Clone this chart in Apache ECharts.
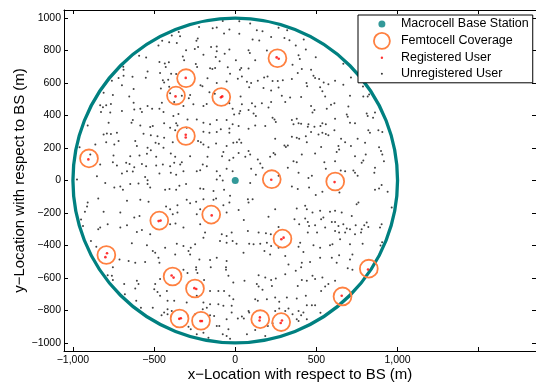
<!DOCTYPE html>
<html>
<head>
<meta charset="utf-8">
<script src="https://cdn.jsdelivr.net/npm/echarts@6/dist/echarts.min.js"></script>
<style>
  html, body { margin: 0; padding: 0; background: #fff; }
  #chart { width: 536px; height: 383px; }
</style>
</head>
<body>
<div id="chart"></div>
<script>
const FONT = 'Liberation Sans, Arial, Helvetica, sans-serif';
const TEAL = '#008080', ORANGE = '#ff8040';

// axis ranges and ticks
const xTicks = [-1000, -500, 0, 500, 1000, 1500];
const xLabels = [-1000, -500, 0, 500, 1000];
const yTicks = [-1000, -800, -600, -400, -200, 0, 200, 400, 600, 800, 1000];

// base station and coverage radius (m)
const macroBS = [[0, 0]];
const cellRadius = 1000;
const femtoRadius = 55;

// femtocell centres (m)
const femtocells = [
  [260, 753], [-303, 630], [-365, 523], [-86, 514], [-304, 274], [-901, 136],
  [225, 8], [616, -6], [-468, -247], [-148, -210], [291, -358], [-794, -459],
  [-386, -591], [-248, -665], [823, -543], [661, -714], [-343, -850], [-211, -864],
  [154, -854], [283, -872]
];

// users attached to a femtocell
const registeredUsers = [
  [255, 758], [268, 750], [-305, 632], [-368, 518], [-88, 512], [-80, 518],
  [-305, 282], [-305, 265], [-905, 130], [222, 5], [612, -10], [-460, -247],
  [-472, -250], [-145, -215], [284, -362], [298, -352], [-790, -448], [-800, -472],
  [-392, -585], [-380, -598], [-252, -663], [-240, -668], [818, -548], [656, -710],
  [-345, -852], [-335, -848], [-215, -866], [-205, -866], [152, -843], [150, -862],
  [288, -862], [280, -878]
];

// users served by the macrocell
const unregisteredUsers = [
  [-223,946],[-139,938],[-114,942],[-77,983],[-36,930],[-69,905],[-348,915],[-340,888],[-231,874],[-239,860],
  [-391,893],[-360,847],[-450,860],[-473,831],[-407,851],[-303,802],[-249,810],[-229,822],[-149,822],[-114,825],
  [-114,796],[-36,806],[-592,769],[-549,757],[-467,730],[-434,720],[-428,699],[-409,728],[-323,763],[-315,740],
  [-243,717],[-235,699],[-196,775],[-120,761],[-96,734],[-155,691],[-141,687],[-124,693],[-46,697],[-32,658],
  [-65,781],[-690,700],[-688,682],[-719,631],[-688,645],[-633,639],[-551,633],[-463,662],[-446,617],[-413,621],
  [-395,658],[-364,656],[-540,672],[-760,615],[-698,586],[-754,526],[-811,540],[-653,518],[-626,563],[-458,567],
  [-407,577],[-438,604],[-214,586],[-202,581],[-171,629],[-114,600],[-53,610],[-159,544],[-126,534],[-278,526],
  [-286,507],[-401,538],[-329,522],
  [25,981],[92,967],[133,925],[168,919],[267,940],[320,925],[25,903],[107,868],[148,862],[221,884],
  [303,878],[334,864],[373,831],[422,868],[82,802],[90,785],[195,800],[123,740],[4,740],[37,693],
  [29,682],[82,689],[435,806],[390,771],[398,748],[353,713],[410,687],[496,759],[666,719],[467,682],
  [16,627],[41,641],[72,608],[98,600],[86,575],[139,614],[178,635],[199,641],[230,612],[262,612],
  [293,617],[349,625],[385,662],[482,645],[492,631],[517,625],[545,604],[574,592],[615,614],[666,590],
  [439,600],[443,581],[523,575],[537,549],[713,635],[763,610],[787,579],[825,530],[816,518],[174,569],
  [221,555],[267,573],[338,511],[406,514],[287,522],[554,518],[707,522],[789,518],[33,518],
  [-832,463],[-815,451],[-795,463],[-766,471],[-827,422],[-770,418],[-698,428],[-626,479],[-622,438],[-585,442],
  [-575,422],[-540,459],[-512,442],[-467,442],[-442,422],[-452,479],[-376,484],[-319,459],[-258,469],[-196,459],
  [-176,471],[-36,475],[-16,442],[-7,407],[-909,339],[-780,356],[-631,372],[-639,356],[-585,339],[-524,329],
  [-508,335],[-438,352],[-401,325],[-381,397],[-350,409],[-364,352],[-356,339],[-294,376],[-299,325],[-237,376],
  [-196,356],[-155,346],[-114,372],[-53,372],[-16,346],[-89,315],[-36,321],[-811,284],[-791,290],[-766,286],
  [-729,294],[-565,288],[-520,278],[-479,273],[-438,263],[-370,310],[-196,300],[-159,294],[-212,236],[-114,298],
  [-36,294],[-862,222],[-795,236],[-745,222],[-719,243],[-616,243],[-606,212],[-540,201],[-520,187],[-491,232],
  [-471,226],[-442,201],[-385,236],[-229,243],[-196,222],[-165,205],[-118,228],[-53,212],[-12,232],[-959,205],
  [-893,160],[-750,154],[-754,113],[-647,150],[-590,154],[-544,164],[-487,146],[-397,166],[-370,146],[-329,113],
  [-278,150],[-171,146],[-73,175],[-81,150],[-36,125],[-12,140],[-832,98],[-729,92],[-672,109],[-651,102],
  [-622,82],[-575,102],[-549,88],[-487,92],[-446,98],[-401,88],[-376,109],[-339,98],[-200,98],[-175,88],
  [-114,57],[-94,30],[-53,72],[-16,57],[-975,6],[-852,26],[-698,43],[-667,57],[-631,55],[-555,22],
  [-540,1],[-467,43],[-397,47],[-364,36],[-319,57],[-237,57],[-216,63],[-114,6],[-77,0],
  [41,469],[103,475],[123,455],[164,475],[221,484],[308,484],[31,428],[25,413],[82,434],[113,413],
  [127,397],[205,449],[230,387],[242,376],[250,360],[349,372],[379,381],[390,352],[467,459],[488,434],
  [476,418],[590,467],[611,475],[564,442],[615,381],[697,455],[687,407],[693,393],[810,413],[816,397],
  [849,387],[861,418],[21,335],[82,319],[123,339],[185,335],[359,346],[406,350],[451,346],[447,331],
  [488,331],[525,335],[537,352],[558,346],[707,356],[738,352],[820,310],[830,294],[882,310],[906,298],
  [467,298],[537,294],[558,286],[611,310],[349,269],[379,263],[394,257],[574,278],[652,257],[25,253],
  [10,236],[37,232],[246,257],[435,273],[513,284],[754,257],[303,216],[312,207],[324,216],[441,236],
  [529,207],[636,212],[677,236],[713,212],[800,232],[886,205],[21,170],[82,181],[236,170],[246,160],
  [410,160],[492,166],[625,175],[640,191],[738,150],[804,160],[789,123],[779,109],[898,181],[906,160],
  [916,119],[62,146],[92,160],[215,146],[139,129],[154,104],[168,78],[359,119],[379,113],[549,113],
  [615,119],[728,61],[738,47],[754,30],[861,78],[857,47],[98,72],[127,36],[267,30],[324,78],
  [390,47],[451,16],[472,30],[558,72],[650,61],[677,57],
  [-801,-16],[-745,-43],[-708,-37],[-692,-57],[-647,-22],[-596,-18],[-540,-22],[-524,-43],[-432,-57],[-405,-53],
  [-364,-57],[-344,-33],[-303,-22],[-216,-49],[-196,-53],[-134,-64],[-69,-57],[-32,-94],[-844,-111],[-909,-136],
  [-913,-160],[-667,-125],[-585,-119],[-534,-131],[-426,-160],[-401,-177],[-356,-152],[-299,-119],[-278,-140],[-241,-131],
  [-196,-115],[-134,-119],[-118,-111],[-73,-152],[-36,-136],[-926,-193],[-811,-193],[-708,-197],[-622,-228],[-590,-218],
  [-385,-208],[-356,-197],[-237,-208],[-216,-177],[-53,-197],[-950,-240],[-938,-280],[-844,-300],[-832,-290],[-786,-270],
  [-708,-290],[-667,-276],[-606,-317],[-575,-305],[-524,-331],[-401,-270],[-368,-265],[-319,-290],[-216,-270],[-186,-321],
  [-83,-331],[-53,-342],[-22,-321],[-889,-373],[-856,-408],[-637,-387],[-544,-399],[-508,-434],[-493,-445],[-432,-414],
  [-360,-389],[-319,-403],[-288,-434],[-274,-414],[-247,-393],[-196,-352],[-94,-373],[-53,-383],[-16,-373],[-713,-486],
  [-657,-496],[-616,-506],[-555,-502],[-473,-476],[-467,-506],[-370,-455],[-278,-455],[-221,-486],[-155,-490],[-114,-476],
  [-53,-496],
  [92,-16],[349,-37],[385,-53],[455,-43],[496,-90],[537,-70],[642,-74],[861,-57],[886,-49],[902,-28],
  [939,-70],[78,-115],[107,-115],[82,-136],[246,-177],[21,-181],[379,-173],[431,-156],[441,-177],[476,-197],
  [523,-187],[584,-193],[615,-187],[656,-197],[718,-218],[748,-146],[759,-136],[964,-167],[53,-243],[205,-224],
  [365,-239],[394,-270],[431,-234],[447,-255],[455,-280],[492,-276],[529,-239],[543,-228],[554,-290],[595,-255],
  [615,-255],[636,-280],[666,-270],[687,-296],[707,-300],[742,-276],[779,-300],[795,-276],[810,-259],[820,-286],
  [902,-270],[892,-290],[267,-286],[78,-311],[144,-321],[189,-325],[219,-331],[447,-321],[504,-321],[615,-311],
  [640,-321],[677,-321],[738,-331],[775,-321],[8,-389],[86,-389],[113,-393],[154,-389],[195,-383],[221,-403],
  [267,-414],[400,-383],[390,-408],[482,-399],[523,-414],[584,-399],[599,-393],[646,-362],[707,-393],[785,-389],
  [895,-400],[905,-380],[51,-445],[180,-434],[215,-455],[308,-465],[420,-440],[461,-502],[523,-476],[595,-476],
  [640,-461],[707,-486],[722,-455],[328,-517],[410,-506],[625,-506],
  [-754,-535],[-786,-583],[-760,-587],[-754,-612],[-684,-638],[-606,-618],[-596,-638],[-616,-665],[-493,-638],[-499,-669],
  [-479,-686],[-463,-710],[-421,-680],[-463,-607],[-319,-550],[-294,-570],[-241,-535],[-241,-550],[-233,-570],[-151,-535],
  [-57,-535],[-57,-550],[-42,-587],[-12,-628],[-192,-612],[-237,-710],[-155,-680],[-104,-680],[-69,-680],[-36,-710],
  [-12,-731],[-680,-700],[-610,-741],[-581,-783],[-417,-741],[-376,-741],[-417,-793],[-391,-803],[-299,-752],[-196,-752],
  [-200,-793],[-175,-783],[-155,-762],[-104,-762],[-73,-772],[-22,-772],[-22,-813],[-508,-783],[-438,-813],[-454,-830],
  [-417,-824],[-247,-824],[-155,-830],[-130,-834],[-114,-896],[-98,-896],[-53,-855],[-42,-916],[-288,-900],[-274,-916],
  [-237,-947],[-196,-937],[-165,-968],[-77,-947],[-53,-958],[-32,-974],
  [57,-618],[144,-583],[185,-597],[221,-612],[250,-603],[308,-577],[373,-556],[385,-649],[406,-535],[410,-612],
  [441,-618],[476,-587],[492,-607],[537,-597],[554,-653],[529,-680],[574,-638],[615,-618],[693,-541],[722,-550],
  [133,-638],[144,-653],[168,-673],[226,-649],[123,-731],[139,-741],[195,-731],[246,-721],[271,-747],[318,-721],
  [379,-727],[435,-710],[441,-768],[472,-768],[492,-768],[390,-803],[406,-830],[420,-813],[328,-789],[308,-803],
  [271,-789],[246,-803],[353,-824],[525,-815],[82,-803],[86,-813],[41,-838],[16,-850],[53,-850],[201,-896],
  [230,-879],[379,-855],[390,-865],[441,-855],[72,-947],[123,-920],[185,-958]
];

function minusFmt(v, comma) {
  var s = Math.abs(v).toString();
  if (comma && Math.abs(v) >= 1000) s = s.replace(/\B(?=(\d{3})+(?!\d))/g, ',');
  return (v < 0 ? '\u2212' : '') + s;
}

// small dot icon inside a 28x16 box so the legend keeps it small
function dotIcon(r) {
  return 'path://M0,0M28,16M' + (14 - r) + ',8a' + r + ',' + r + ' 0 1,0 ' + (2 * r) + ',0a' + r + ',' + r + ' 0 1,0 ' + (-2 * r) + ',0Z';
}

function circleItem(color, lineWidth) {
  return function (params, api) {
    var c = api.coord([api.value(0), api.value(1)]);
    var s = api.size([api.value(2), api.value(2)]);
    return {
      type: 'circle',
      shape: { cx: c[0], cy: c[1], r: s[0] },
      style: { fill: 'none', stroke: color, lineWidth: lineWidth }
    };
  };
}

var chart = echarts.init(document.getElementById('chart'));

var axisCommon = {
  type: 'value',
  axisLine: { show: true, onZero: false, lineStyle: { color: '#000', width: 1 } },
  splitLine: { show: false },
  axisTick: { show: true, inside: true, length: 4, lineStyle: { color: '#000' } }
};

var option = {
  animation: false,
  textStyle: { fontFamily: FONT },
  grid: { left: 64, top: 10, right: 0, bottom: 32, containLabel: false, outerBoundsMode: 'none' },
  xAxis: [
    Object.assign({}, axisCommon, {
      position: 'bottom', min: -1055, max: 1853,
      axisTick: Object.assign({}, axisCommon.axisTick, { customValues: xTicks }),
      axisLabel: { customValues: xLabels, margin: 4, fontSize: 10.5, color: '#000', fontFamily: FONT,
        formatter: function (v) { return minusFmt(v, true); } },
      name: 'x\u2212Location with respect to BS (m)', nameLocation: 'middle', nameGap: 16,
      nameMoveOverlap: false,
      nameTextStyle: { fontSize: 15, color: '#000', fontFamily: FONT }
    }),
    Object.assign({}, axisCommon, {
      position: 'top', min: -1055, max: 1853,
      axisTick: Object.assign({}, axisCommon.axisTick, { customValues: xTicks }),
      axisLabel: { show: false }
    })
  ],
  yAxis: [
    Object.assign({}, axisCommon, {
      position: 'left', min: -1050, max: 1050,
      axisTick: Object.assign({}, axisCommon.axisTick, { customValues: yTicks }),
      axisLabel: { customValues: yTicks, margin: 3, fontSize: 10.5, color: '#000', fontFamily: FONT,
        formatter: function (v) { return minusFmt(v, false); } },
      name: 'y\u2212Location with respect to BS (m)', nameLocation: 'middle', nameGap: 37,
      nameMoveOverlap: false,
      nameTextStyle: { fontSize: 15, color: '#000', fontFamily: FONT }
    }),
    Object.assign({}, axisCommon, {
      position: 'right', min: -1050, max: 1050,
      axisTick: Object.assign({}, axisCommon.axisTick, { customValues: yTicks }),
      axisLabel: { show: false }
    })
  ],
  legend: {
    orient: 'vertical', left: 358, top: 15,
    itemWidth: 28, itemHeight: 16, itemGap: 0,
    padding: [1, 4, 1, 9],
    borderColor: '#000', borderWidth: 1, borderRadius: 0, backgroundColor: '#fff',
    textStyle: { fontFamily: FONT, fontSize: 12.5, color: '#000' },
    selectedMode: false,
    data: [
      { name: 'Macrocell Base Station', icon: dotIcon(3.5), itemStyle: { color: TEAL, borderWidth: 0 } },
      { name: 'Femtocell Coverage', icon: 'path://M0,0M28,16M6,8a8,8 0 1,0 16,0a8,8 0 1,0 -16,0Z',
        itemStyle: { color: 'rgba(0,0,0,0)', borderColor: ORANGE, borderWidth: 1.8 } },
      { name: 'Registered User', icon: dotIcon(1.2), itemStyle: { color: '#ff0000', borderWidth: 0 } },
      { name: 'Unregistered User', icon: dotIcon(1), itemStyle: { color: '#000', borderWidth: 0 } }
    ]
  },
  series: [
    {
      name: 'Unregistered User', type: 'scatter', data: unregisteredUsers,
      symbolSize: 2, itemStyle: { color: '#111' }, silent: true, z: 2
    },
    {
      name: 'Macrocell Coverage', type: 'custom', z: 3, silent: true,
      data: macroBS.map(function (p) { return [p[0], p[1], cellRadius]; }),
      renderItem: circleItem(TEAL, 3.3)
    },
    {
      name: 'Femtocell Coverage', type: 'custom', z: 4, silent: true,
      itemStyle: { color: ORANGE },
      data: femtocells.map(function (p) { return [p[0], p[1], femtoRadius]; }),
      renderItem: circleItem(ORANGE, 1.8)
    },
    {
      name: 'Registered User', type: 'scatter', data: registeredUsers,
      symbolSize: 2.6, itemStyle: { color: '#ff0000' }, silent: true, z: 5
    },
    {
      name: 'Macrocell Base Station', type: 'scatter', data: macroBS,
      symbolSize: 7, itemStyle: { color: TEAL }, silent: true, z: 6
    }
  ]
};

chart.setOption(option);
</script>
</body>
</html>
